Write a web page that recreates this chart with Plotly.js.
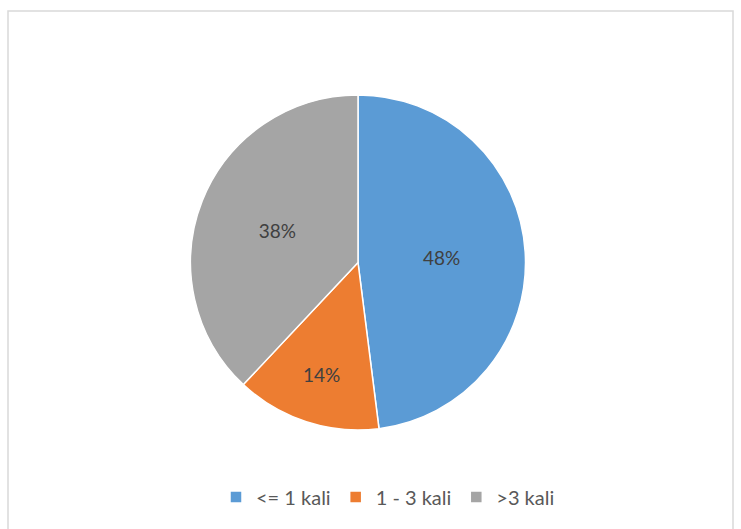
<!DOCTYPE html>
<html>
<head>
<meta charset="utf-8">
<script src="https://cdn.plot.ly/plotly-3.0.1.min.js"></script>
<style>html,body{margin:0;padding:0;background:#fff;}#chart{width:741px;height:529px;}</style>
</head>
<body>
<div id="chart"></div>
<script>
const categories = ["<= 1 kali", "1 - 3 kali", ">3 kali"];
const values = [48, 14, 38];
const colors = ["#5B9BD5", "#ED7D31", "#A5A5A5"];

const W = 741, H = 529;
const trace = {
  type: "pie",
  labels: categories,
  values: values,
  sort: false,
  direction: "clockwise",
  rotation: 0,
  marker: {colors: colors, line: {color: "#ffffff", width: 1.5}},
  textinfo: "percent",
  textposition: "inside",
  insidetextorientation: "horizontal",
  textfont: {family: "Lato, 'Open Sans', sans-serif", size: 19, color: "#404040"},
  hoverinfo: "label+percent",
  domain: {x: [(358 - 190) / W, (358 + 190) / W], y: [(H - 430) / H, (H - 95) / H]}
};

const layout = {
  width: W, height: H,
  margin: {l: 0, r: 0, t: 0, b: 0},
  paper_bgcolor: "#ffffff",
  showlegend: true,
  legend: {
    orientation: "h", x: 388 / W, xanchor: "center", y: (H - 497) / H, yanchor: "middle",
    font: {family: "Lato, 'Open Sans', sans-serif", size: 20, color: "#595959"},
    itemwidth: 30, traceorder: "normal"
  },
  shapes: [{
    type: "rect", xref: "paper", yref: "paper",
    x0: 8 / W, x1: 733 / W, y0: -0.01, y1: (H - 11) / H,
    line: {color: "#d9d9d9", width: 1.5}, fillcolor: "rgba(0,0,0,0)"
  }]
};

Plotly.newPlot("chart", [trace], layout, {displayModeBar: false, staticPlot: true});
</script>
</body>
</html>
